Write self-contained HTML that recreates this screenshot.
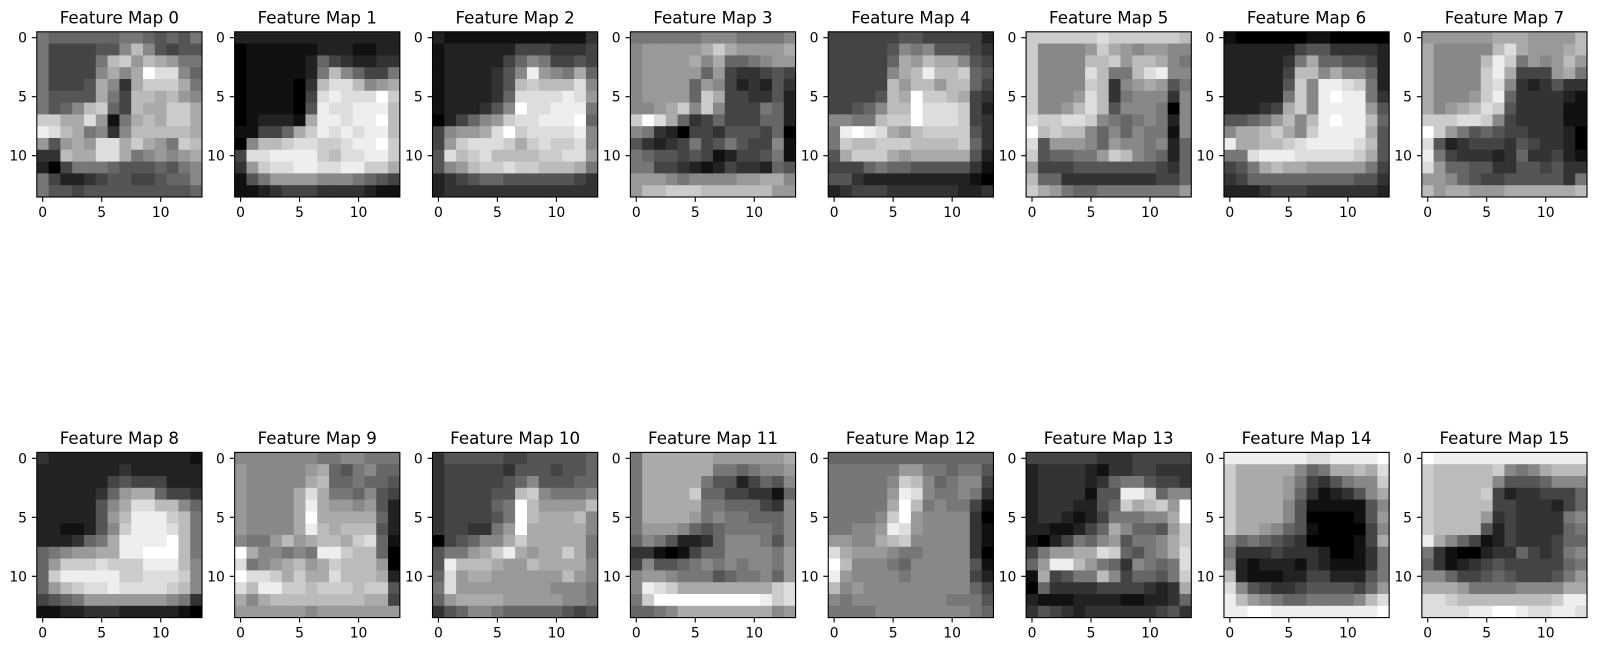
<!DOCTYPE html>
<html><head><meta charset="utf-8">
<style>
html,body{margin:0;padding:0;background:#fff;}
svg{display:block;}
text{font-family:"DejaVu Sans","Liberation Sans",sans-serif;font-size:13.9px;fill:#000;}
.b{text-anchor:middle;}
.l{text-anchor:end;}
.t{text-anchor:middle;font-size:16.67px;}
.sp{fill:none;stroke:#000;stroke-width:1.1;}
.tk{stroke:#000;stroke-width:1.1;fill:none;}
</style></head>
<body>
<svg id="s" width="1597" height="650" viewBox="0 0 1597 650" xmlns="http://www.w3.org/2000/svg">
<rect width="1597" height="650" fill="#fff"/>
<g transform="translate(36.8,31.8)"><g class="img"></g><rect class="sp" width="165.2" height="165.2"/><path class="tk" d="M5.9 165.2v4.9M64.9 165.2v4.9M123.9 165.2v4.9M0 5.9h-4.9M0 64.9h-4.9M0 123.9h-4.9"/><text class="b" x="5.9" y="185">0</text><text class="b" x="64.9" y="185">5</text><text class="b" x="123.9" y="185">10</text><text class="l" x="-9.8" y="10.9">0</text><text class="l" x="-9.8" y="69.9">5</text><text class="l" x="-9.8" y="128.9">10</text><text class="t" x="82.6" y="-8.3">Feature Map 0</text></g>
<g transform="translate(234.66,31.8)"><g class="img"></g><rect class="sp" width="165.2" height="165.2"/><path class="tk" d="M5.9 165.2v4.9M64.9 165.2v4.9M123.9 165.2v4.9M0 5.9h-4.9M0 64.9h-4.9M0 123.9h-4.9"/><text class="b" x="5.9" y="185">0</text><text class="b" x="64.9" y="185">5</text><text class="b" x="123.9" y="185">10</text><text class="l" x="-9.8" y="10.9">0</text><text class="l" x="-9.8" y="69.9">5</text><text class="l" x="-9.8" y="128.9">10</text><text class="t" x="82.6" y="-8.3">Feature Map 1</text></g>
<g transform="translate(432.52,31.8)"><g class="img"></g><rect class="sp" width="165.2" height="165.2"/><path class="tk" d="M5.9 165.2v4.9M64.9 165.2v4.9M123.9 165.2v4.9M0 5.9h-4.9M0 64.9h-4.9M0 123.9h-4.9"/><text class="b" x="5.9" y="185">0</text><text class="b" x="64.9" y="185">5</text><text class="b" x="123.9" y="185">10</text><text class="l" x="-9.8" y="10.9">0</text><text class="l" x="-9.8" y="69.9">5</text><text class="l" x="-9.8" y="128.9">10</text><text class="t" x="82.6" y="-8.3">Feature Map 2</text></g>
<g transform="translate(630.38,31.8)"><g class="img"></g><rect class="sp" width="165.2" height="165.2"/><path class="tk" d="M5.9 165.2v4.9M64.9 165.2v4.9M123.9 165.2v4.9M0 5.9h-4.9M0 64.9h-4.9M0 123.9h-4.9"/><text class="b" x="5.9" y="185">0</text><text class="b" x="64.9" y="185">5</text><text class="b" x="123.9" y="185">10</text><text class="l" x="-9.8" y="10.9">0</text><text class="l" x="-9.8" y="69.9">5</text><text class="l" x="-9.8" y="128.9">10</text><text class="t" x="82.6" y="-8.3">Feature Map 3</text></g>
<g transform="translate(828.24,31.8)"><g class="img"></g><rect class="sp" width="165.2" height="165.2"/><path class="tk" d="M5.9 165.2v4.9M64.9 165.2v4.9M123.9 165.2v4.9M0 5.9h-4.9M0 64.9h-4.9M0 123.9h-4.9"/><text class="b" x="5.9" y="185">0</text><text class="b" x="64.9" y="185">5</text><text class="b" x="123.9" y="185">10</text><text class="l" x="-9.8" y="10.9">0</text><text class="l" x="-9.8" y="69.9">5</text><text class="l" x="-9.8" y="128.9">10</text><text class="t" x="82.6" y="-8.3">Feature Map 4</text></g>
<g transform="translate(1026.1,31.8)"><g class="img"></g><rect class="sp" width="165.2" height="165.2"/><path class="tk" d="M5.9 165.2v4.9M64.9 165.2v4.9M123.9 165.2v4.9M0 5.9h-4.9M0 64.9h-4.9M0 123.9h-4.9"/><text class="b" x="5.9" y="185">0</text><text class="b" x="64.9" y="185">5</text><text class="b" x="123.9" y="185">10</text><text class="l" x="-9.8" y="10.9">0</text><text class="l" x="-9.8" y="69.9">5</text><text class="l" x="-9.8" y="128.9">10</text><text class="t" x="82.6" y="-8.3">Feature Map 5</text></g>
<g transform="translate(1223.96,31.8)"><g class="img"></g><rect class="sp" width="165.2" height="165.2"/><path class="tk" d="M5.9 165.2v4.9M64.9 165.2v4.9M123.9 165.2v4.9M0 5.9h-4.9M0 64.9h-4.9M0 123.9h-4.9"/><text class="b" x="5.9" y="185">0</text><text class="b" x="64.9" y="185">5</text><text class="b" x="123.9" y="185">10</text><text class="l" x="-9.8" y="10.9">0</text><text class="l" x="-9.8" y="69.9">5</text><text class="l" x="-9.8" y="128.9">10</text><text class="t" x="82.6" y="-8.3">Feature Map 6</text></g>
<g transform="translate(1421.82,31.8)"><g class="img"></g><rect class="sp" width="165.2" height="165.2"/><path class="tk" d="M5.9 165.2v4.9M64.9 165.2v4.9M123.9 165.2v4.9M0 5.9h-4.9M0 64.9h-4.9M0 123.9h-4.9"/><text class="b" x="5.9" y="185">0</text><text class="b" x="64.9" y="185">5</text><text class="b" x="123.9" y="185">10</text><text class="l" x="-9.8" y="10.9">0</text><text class="l" x="-9.8" y="69.9">5</text><text class="l" x="-9.8" y="128.9">10</text><text class="t" x="82.6" y="-8.3">Feature Map 7</text></g>
<g transform="translate(36.8,452.4)"><g class="img"></g><rect class="sp" width="165.2" height="165.2"/><path class="tk" d="M5.9 165.2v4.9M64.9 165.2v4.9M123.9 165.2v4.9M0 5.9h-4.9M0 64.9h-4.9M0 123.9h-4.9"/><text class="b" x="5.9" y="185">0</text><text class="b" x="64.9" y="185">5</text><text class="b" x="123.9" y="185">10</text><text class="l" x="-9.8" y="10.9">0</text><text class="l" x="-9.8" y="69.9">5</text><text class="l" x="-9.8" y="128.9">10</text><text class="t" x="82.6" y="-8.3">Feature Map 8</text></g>
<g transform="translate(234.66,452.4)"><g class="img"></g><rect class="sp" width="165.2" height="165.2"/><path class="tk" d="M5.9 165.2v4.9M64.9 165.2v4.9M123.9 165.2v4.9M0 5.9h-4.9M0 64.9h-4.9M0 123.9h-4.9"/><text class="b" x="5.9" y="185">0</text><text class="b" x="64.9" y="185">5</text><text class="b" x="123.9" y="185">10</text><text class="l" x="-9.8" y="10.9">0</text><text class="l" x="-9.8" y="69.9">5</text><text class="l" x="-9.8" y="128.9">10</text><text class="t" x="82.6" y="-8.3">Feature Map 9</text></g>
<g transform="translate(432.52,452.4)"><g class="img"></g><rect class="sp" width="165.2" height="165.2"/><path class="tk" d="M5.9 165.2v4.9M64.9 165.2v4.9M123.9 165.2v4.9M0 5.9h-4.9M0 64.9h-4.9M0 123.9h-4.9"/><text class="b" x="5.9" y="185">0</text><text class="b" x="64.9" y="185">5</text><text class="b" x="123.9" y="185">10</text><text class="l" x="-9.8" y="10.9">0</text><text class="l" x="-9.8" y="69.9">5</text><text class="l" x="-9.8" y="128.9">10</text><text class="t" x="82.6" y="-8.3">Feature Map 10</text></g>
<g transform="translate(630.38,452.4)"><g class="img"></g><rect class="sp" width="165.2" height="165.2"/><path class="tk" d="M5.9 165.2v4.9M64.9 165.2v4.9M123.9 165.2v4.9M0 5.9h-4.9M0 64.9h-4.9M0 123.9h-4.9"/><text class="b" x="5.9" y="185">0</text><text class="b" x="64.9" y="185">5</text><text class="b" x="123.9" y="185">10</text><text class="l" x="-9.8" y="10.9">0</text><text class="l" x="-9.8" y="69.9">5</text><text class="l" x="-9.8" y="128.9">10</text><text class="t" x="82.6" y="-8.3">Feature Map 11</text></g>
<g transform="translate(828.24,452.4)"><g class="img"></g><rect class="sp" width="165.2" height="165.2"/><path class="tk" d="M5.9 165.2v4.9M64.9 165.2v4.9M123.9 165.2v4.9M0 5.9h-4.9M0 64.9h-4.9M0 123.9h-4.9"/><text class="b" x="5.9" y="185">0</text><text class="b" x="64.9" y="185">5</text><text class="b" x="123.9" y="185">10</text><text class="l" x="-9.8" y="10.9">0</text><text class="l" x="-9.8" y="69.9">5</text><text class="l" x="-9.8" y="128.9">10</text><text class="t" x="82.6" y="-8.3">Feature Map 12</text></g>
<g transform="translate(1026.1,452.4)"><g class="img"></g><rect class="sp" width="165.2" height="165.2"/><path class="tk" d="M5.9 165.2v4.9M64.9 165.2v4.9M123.9 165.2v4.9M0 5.9h-4.9M0 64.9h-4.9M0 123.9h-4.9"/><text class="b" x="5.9" y="185">0</text><text class="b" x="64.9" y="185">5</text><text class="b" x="123.9" y="185">10</text><text class="l" x="-9.8" y="10.9">0</text><text class="l" x="-9.8" y="69.9">5</text><text class="l" x="-9.8" y="128.9">10</text><text class="t" x="82.6" y="-8.3">Feature Map 13</text></g>
<g transform="translate(1223.96,452.4)"><g class="img"></g><rect class="sp" width="165.2" height="165.2"/><path class="tk" d="M5.9 165.2v4.9M64.9 165.2v4.9M123.9 165.2v4.9M0 5.9h-4.9M0 64.9h-4.9M0 123.9h-4.9"/><text class="b" x="5.9" y="185">0</text><text class="b" x="64.9" y="185">5</text><text class="b" x="123.9" y="185">10</text><text class="l" x="-9.8" y="10.9">0</text><text class="l" x="-9.8" y="69.9">5</text><text class="l" x="-9.8" y="128.9">10</text><text class="t" x="82.6" y="-8.3">Feature Map 14</text></g>
<g transform="translate(1421.82,452.4)"><g class="img"></g><rect class="sp" width="165.2" height="165.2"/><path class="tk" d="M5.9 165.2v4.9M64.9 165.2v4.9M123.9 165.2v4.9M0 5.9h-4.9M0 64.9h-4.9M0 123.9h-4.9"/><text class="b" x="5.9" y="185">0</text><text class="b" x="64.9" y="185">5</text><text class="b" x="123.9" y="185">10</text><text class="l" x="-9.8" y="10.9">0</text><text class="l" x="-9.8" y="69.9">5</text><text class="l" x="-9.8" y="128.9">10</text><text class="t" x="82.6" y="-8.3">Feature Map 15</text></g>
</svg>
<script>
var M=[
"76666667765657 74444558b854557 744447bc9ba977 744448a8afdd86 74445a83accca7 75555a74bbab98 7568bc64baacca ccaad917abacca edba7838bbbbba 959a9ddaca97cb 33baadda78989a 20477765556578 74223455445668 75545555555556",
"22222222222222 01111112221122 01111126432233 01111127b86447 0111103bddb89a 0111104dedddfc 0111105eddeeeb 012221aeedeefb 11446acededeeb 08bbcddccdeefc 4ddeeeecbddeec 39cddeeddeecca 15799998887654 11234443333211",
"21111111111113 12222224443334 12222246874454 12222358e987a6 1222235bcbbbd8 1222236dddded9 1222358fddeee7 024689cddeeef6 4899adfcdddde8 49cdddcacdccd8 5dbcdbbbbccdd9 589bccdccbbba7 23456655555543 23333333333333",
"77777788877778 899999aca9999a 89999a8a667899 89999969433454 89999698423253 899996ca443352 889ac8c8444762 cfda6346444662 87320443555460 53234745754481 76554541244571 77443212433265 99987888899aa8 9bbcccbbbbbb99",
"44444455444442 44444587855543 444446a9baa854 444448abebbc65 44444b9bb9bb64 44445bafccba43 44568bbfdddc42 8877bccfdddc43 7efeda9bcccc53 7cbbcccbbbbc63 5accca9aaaaa52 44467665555531 55322222222210 23444333333223",
"ccccccdccccccb c88889ca989988 c8888bbc9bba87 c8888db77bde88 c8888cb389a957 c8889db3788838 c889bdb5888708 dccddc87678728 fbcbb868687718 d5999869887826 c566779cb87626 94445555555436 b6633333333446 ca976677777779",
"10000001100000 22222245533332 2222237a665542 222224bb8a8862 222225c8eedc72 222227c8efee73 22234ac8eeee95 55679b8befeeb6 8aabca8ceeeea5 eaabbcdeeeedb5 77deeedddddca5 457abaa9999974 34666666666553 22234443333332",
"999999aaa9999b a88888bda999ab a8888bec7989b9 a8888cea4449a7 a8888cd8323533 a8889ce6333321 a89abdc5333311 cccddc84333311 fc975654433320 d5234443543320 e7433323633421 d9665533554533 99865445555537 b9aa999aaaaaab",
"32222222222221 22222223222222 22222245444222 22222369aa6443 2222258addbb86 2222259beeecb7 2211258ceeedb7 222367aeeeefb7 67899aaeefffb7 69cccdccceeeb8 6ceeeeeccdddc8 69bcddeddddcb8 45679999999873 11223332222210",
"88888887788777 9888889a657866 988888ab667665 98888ada776854 98888aea998952 98888afaaaaa62 98888aebabbb52 8779b9abbacd61 fa88787eecbb60 d789ab9acbbb90 fddcacaadbbba2 dbeeccbcccbcc5 a8abbbbbbbbaa4 99999989999999",
"35555544555556 34444435554556 34444456855566 3444455bc87778 3444467fb9999b 3444457fbaaab8 3443379faaaaa8 045688acaaaaa7 5779acea9aaca7 5ebbba99baaaa8 6d9aa999999b98 7d999999998887 69aaaa99999887 35688766666545",
"7aaaaaa999999a 7aaaaaa7767889 7aaaaa75524658 7aaaac66443316 7aaaaa77666438 7aaaa978776668 79998656777768 68752236888758 33101466888879 48556787878879 89987775677869 8edcaaaaaaaacd 7cfffffffffecd 6678aaaaaaaa89",
"66666666666666 77777799776775 777778cb867884 777779ed877873 77777afb787741 77778cf9888830 77889ed9888831 9988abc8888831 da999877888830 fb888768888851 e9888878888842 b8988888888864 87888888887775 77778888888876",
"44444433344444 23333213344333 23333236775443 23333155eec688 23332256cabc9f 233212477788af 2211246a86659c 102476895778ac 4799aadc6578ad 69eeb97638767d 1a4577b846657c 0633334444323a 21112222112236 35432333333453",
"eeeeeeeddeeeef caaaaa867aabad caaaa97435788c caaaa96312358a caaaa851111158 caaaa850000159 caa98651000048 8676543000014a 73334333200137 82122213211137 b2111224422257 d8543345555469 eb9876677778bd eeffeeeeeeeeef",
"feeeeeeeeeeeee cbbbbbc878abbb cbbbbb85556888 cbbbbc42334446 cbbbbb44333246 cbbbb934333378 cbbbb524333367 ea864124333466 73100233643478 63123454444467 88644565444579 aaa977778888aa ddcbbbbbbbbcee ddddeeffeddeed"
];
var gs=document.querySelectorAll('#s g.img');
var C=11.8;
for(var m=0;m<gs.length&&m<M.length;m++){
  var rows=M[m].split(/\s+/);
  var h='';
  for(var r=0;r<14;r++){
    var s=rows[r]||'';
    for(var c=0;c<14;c++){
      var ch=s.charAt(c)||'8';
      var v=parseInt(ch,16);
      if(isNaN(v))v=8;
      v=v*17;
      h+='<rect x="'+(c*C).toFixed(2)+'" y="'+(r*C).toFixed(2)+'" width="'+(c==13?C:C+0.4).toFixed(2)+'" height="'+(r==13?C:C+0.4).toFixed(2)+'" fill="rgb('+v+','+v+','+v+')"/>';
    }
  }
  gs[m].innerHTML=h;
}
</script>
</body></html>
